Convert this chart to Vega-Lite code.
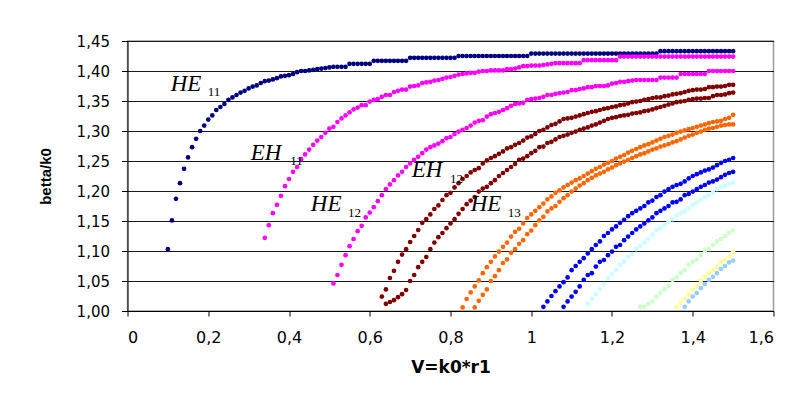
{
"$schema":"https://vega.github.io/schema/vega-lite/v6.json",
"width":646,"height":270,
"autosize":{"type":"none"},
"padding":{"left":127.5,"top":41,"right":20.5,"bottom":85},
"background":"white",
"config":{"view":{"stroke":"#9a9a9a","strokeWidth":1.5}},
"datasets":{
"pts":[
{"s":"HE11","x":0.10,"y":1.103},{"s":"HE11","x":0.11,"y":1.151},{"s":"HE11","x":0.12,"y":1.187},{"s":"HE11","x":0.13,"y":1.213},{"s":"HE11","x":0.14,"y":1.237},{"s":"HE11","x":0.15,"y":1.256},{"s":"HE11","x":0.16,"y":1.273},{"s":"HE11","x":0.17,"y":1.287},{"s":"HE11","x":0.18,"y":1.300},{"s":"HE11","x":0.19,"y":1.309},
{"s":"HE11","x":0.20,"y":1.319},{"s":"HE11","x":0.21,"y":1.326},{"s":"HE11","x":0.22,"y":1.335},{"s":"HE11","x":0.23,"y":1.340},{"s":"HE11","x":0.24,"y":1.345},{"s":"HE11","x":0.25,"y":1.352},{"s":"HE11","x":0.26,"y":1.356},{"s":"HE11","x":0.27,"y":1.360},{"s":"HE11","x":0.28,"y":1.364},{"s":"HE11","x":0.29,"y":1.367},
{"s":"HE11","x":0.30,"y":1.371},{"s":"HE11","x":0.31,"y":1.374},{"s":"HE11","x":0.32,"y":1.376},{"s":"HE11","x":0.33,"y":1.380},{"s":"HE11","x":0.34,"y":1.383},{"s":"HE11","x":0.35,"y":1.384},{"s":"HE11","x":0.36,"y":1.386},{"s":"HE11","x":0.37,"y":1.388},{"s":"HE11","x":0.38,"y":1.391},{"s":"HE11","x":0.39,"y":1.392},
{"s":"HE11","x":0.40,"y":1.393},{"s":"HE11","x":0.41,"y":1.395},{"s":"HE11","x":0.42,"y":1.398},{"s":"HE11","x":0.43,"y":1.400},{"s":"HE11","x":0.44,"y":1.400},{"s":"HE11","x":0.45,"y":1.401},{"s":"HE11","x":0.46,"y":1.402},{"s":"HE11","x":0.47,"y":1.403},{"s":"HE11","x":0.48,"y":1.404},{"s":"HE11","x":0.49,"y":1.405},
{"s":"HE11","x":0.50,"y":1.406},{"s":"HE11","x":0.51,"y":1.407},{"s":"HE11","x":0.52,"y":1.407},{"s":"HE11","x":0.53,"y":1.407},{"s":"HE11","x":0.54,"y":1.407},{"s":"HE11","x":0.55,"y":1.412},{"s":"HE11","x":0.56,"y":1.412},{"s":"HE11","x":0.57,"y":1.412},{"s":"HE11","x":0.58,"y":1.412},{"s":"HE11","x":0.59,"y":1.412},
{"s":"HE11","x":0.60,"y":1.412},{"s":"HE11","x":0.61,"y":1.417},{"s":"HE11","x":0.62,"y":1.417},{"s":"HE11","x":0.63,"y":1.417},{"s":"HE11","x":0.64,"y":1.417},{"s":"HE11","x":0.65,"y":1.417},{"s":"HE11","x":0.66,"y":1.417},{"s":"HE11","x":0.67,"y":1.417},{"s":"HE11","x":0.68,"y":1.417},{"s":"HE11","x":0.69,"y":1.417},
{"s":"HE11","x":0.70,"y":1.422},{"s":"HE11","x":0.71,"y":1.422},{"s":"HE11","x":0.72,"y":1.422},{"s":"HE11","x":0.73,"y":1.422},{"s":"HE11","x":0.74,"y":1.422},{"s":"HE11","x":0.75,"y":1.422},{"s":"HE11","x":0.76,"y":1.422},{"s":"HE11","x":0.77,"y":1.422},{"s":"HE11","x":0.78,"y":1.422},{"s":"HE11","x":0.79,"y":1.422},
{"s":"HE11","x":0.80,"y":1.422},{"s":"HE11","x":0.81,"y":1.422},{"s":"HE11","x":0.82,"y":1.425},{"s":"HE11","x":0.83,"y":1.425},{"s":"HE11","x":0.84,"y":1.425},{"s":"HE11","x":0.85,"y":1.425},{"s":"HE11","x":0.86,"y":1.425},{"s":"HE11","x":0.87,"y":1.425},{"s":"HE11","x":0.88,"y":1.425},{"s":"HE11","x":0.89,"y":1.425},
{"s":"HE11","x":0.90,"y":1.425},{"s":"HE11","x":0.91,"y":1.425},{"s":"HE11","x":0.92,"y":1.425},{"s":"HE11","x":0.93,"y":1.425},{"s":"HE11","x":0.94,"y":1.425},{"s":"HE11","x":0.95,"y":1.425},{"s":"HE11","x":0.96,"y":1.425},{"s":"HE11","x":0.97,"y":1.425},{"s":"HE11","x":0.98,"y":1.425},{"s":"HE11","x":0.99,"y":1.425},
{"s":"HE11","x":1.00,"y":1.429},{"s":"HE11","x":1.01,"y":1.429},{"s":"HE11","x":1.02,"y":1.429},{"s":"HE11","x":1.03,"y":1.429},{"s":"HE11","x":1.04,"y":1.429},{"s":"HE11","x":1.05,"y":1.429},{"s":"HE11","x":1.06,"y":1.429},{"s":"HE11","x":1.07,"y":1.429},{"s":"HE11","x":1.08,"y":1.429},{"s":"HE11","x":1.09,"y":1.429},
{"s":"HE11","x":1.10,"y":1.429},{"s":"HE11","x":1.11,"y":1.429},{"s":"HE11","x":1.12,"y":1.429},{"s":"HE11","x":1.13,"y":1.429},{"s":"HE11","x":1.14,"y":1.429},{"s":"HE11","x":1.15,"y":1.429},{"s":"HE11","x":1.16,"y":1.429},{"s":"HE11","x":1.17,"y":1.429},{"s":"HE11","x":1.18,"y":1.429},{"s":"HE11","x":1.19,"y":1.429},
{"s":"HE11","x":1.20,"y":1.429},{"s":"HE11","x":1.21,"y":1.429},{"s":"HE11","x":1.22,"y":1.429},{"s":"HE11","x":1.23,"y":1.429},{"s":"HE11","x":1.24,"y":1.429},{"s":"HE11","x":1.25,"y":1.429},{"s":"HE11","x":1.26,"y":1.429},{"s":"HE11","x":1.27,"y":1.429},{"s":"HE11","x":1.28,"y":1.429},{"s":"HE11","x":1.29,"y":1.429},
{"s":"HE11","x":1.30,"y":1.429},{"s":"HE11","x":1.31,"y":1.429},{"s":"HE11","x":1.32,"y":1.433},{"s":"HE11","x":1.33,"y":1.433},{"s":"HE11","x":1.34,"y":1.433},{"s":"HE11","x":1.35,"y":1.433},{"s":"HE11","x":1.36,"y":1.433},{"s":"HE11","x":1.37,"y":1.433},{"s":"HE11","x":1.38,"y":1.433},{"s":"HE11","x":1.39,"y":1.433},
{"s":"HE11","x":1.40,"y":1.433},{"s":"HE11","x":1.41,"y":1.433},{"s":"HE11","x":1.42,"y":1.433},{"s":"HE11","x":1.43,"y":1.433},{"s":"HE11","x":1.44,"y":1.433},{"s":"HE11","x":1.45,"y":1.433},{"s":"HE11","x":1.46,"y":1.433},{"s":"HE11","x":1.47,"y":1.433},{"s":"HE11","x":1.48,"y":1.433},{"s":"HE11","x":1.49,"y":1.433},{"s":"HE11","x":1.50,"y":1.433},

{"s":"EH11","x":0.34,"y":1.122},{"s":"EH11","x":0.35,"y":1.143},{"s":"EH11","x":0.36,"y":1.163},{"s":"EH11","x":0.37,"y":1.177},{"s":"EH11","x":0.38,"y":1.192},{"s":"EH11","x":0.39,"y":1.208},
{"s":"EH11","x":0.40,"y":1.220},{"s":"EH11","x":0.41,"y":1.232},{"s":"EH11","x":0.42,"y":1.240},{"s":"EH11","x":0.43,"y":1.253},{"s":"EH11","x":0.44,"y":1.261},{"s":"EH11","x":0.45,"y":1.269},{"s":"EH11","x":0.46,"y":1.277},{"s":"EH11","x":0.47,"y":1.284},{"s":"EH11","x":0.48,"y":1.290},{"s":"EH11","x":0.49,"y":1.297},
{"s":"EH11","x":0.50,"y":1.304},{"s":"EH11","x":0.51,"y":1.307},{"s":"EH11","x":0.52,"y":1.315},{"s":"EH11","x":0.53,"y":1.321},{"s":"EH11","x":0.54,"y":1.326},{"s":"EH11","x":0.55,"y":1.331},{"s":"EH11","x":0.56,"y":1.336},{"s":"EH11","x":0.57,"y":1.339},{"s":"EH11","x":0.58,"y":1.343},{"s":"EH11","x":0.59,"y":1.343},
{"s":"EH11","x":0.60,"y":1.349},{"s":"EH11","x":0.61,"y":1.352},{"s":"EH11","x":0.62,"y":1.353},{"s":"EH11","x":0.63,"y":1.357},{"s":"EH11","x":0.64,"y":1.360},{"s":"EH11","x":0.65,"y":1.360},{"s":"EH11","x":0.66,"y":1.365},{"s":"EH11","x":0.67,"y":1.367},{"s":"EH11","x":0.68,"y":1.369},{"s":"EH11","x":0.69,"y":1.369},
{"s":"EH11","x":0.70,"y":1.374},{"s":"EH11","x":0.71,"y":1.375},{"s":"EH11","x":0.72,"y":1.376},{"s":"EH11","x":0.73,"y":1.380},{"s":"EH11","x":0.74,"y":1.381},{"s":"EH11","x":0.75,"y":1.382},{"s":"EH11","x":0.76,"y":1.384},{"s":"EH11","x":0.77,"y":1.385},{"s":"EH11","x":0.78,"y":1.387},{"s":"EH11","x":0.79,"y":1.389},
{"s":"EH11","x":0.80,"y":1.390},{"s":"EH11","x":0.81,"y":1.392},{"s":"EH11","x":0.82,"y":1.394},{"s":"EH11","x":0.83,"y":1.395},{"s":"EH11","x":0.84,"y":1.396},{"s":"EH11","x":0.85,"y":1.397},{"s":"EH11","x":0.86,"y":1.397},{"s":"EH11","x":0.87,"y":1.399},{"s":"EH11","x":0.88,"y":1.400},{"s":"EH11","x":0.89,"y":1.400},
{"s":"EH11","x":0.90,"y":1.401},{"s":"EH11","x":0.91,"y":1.401},{"s":"EH11","x":0.92,"y":1.401},{"s":"EH11","x":0.93,"y":1.401},{"s":"EH11","x":0.94,"y":1.403},{"s":"EH11","x":0.95,"y":1.403},{"s":"EH11","x":0.96,"y":1.404},{"s":"EH11","x":0.97,"y":1.406},{"s":"EH11","x":0.98,"y":1.408},{"s":"EH11","x":0.99,"y":1.408},
{"s":"EH11","x":1.00,"y":1.409},{"s":"EH11","x":1.01,"y":1.409},{"s":"EH11","x":1.02,"y":1.409},{"s":"EH11","x":1.03,"y":1.410},{"s":"EH11","x":1.04,"y":1.411},{"s":"EH11","x":1.05,"y":1.412},{"s":"EH11","x":1.06,"y":1.413},{"s":"EH11","x":1.07,"y":1.413},{"s":"EH11","x":1.08,"y":1.413},{"s":"EH11","x":1.09,"y":1.413},
{"s":"EH11","x":1.10,"y":1.413},{"s":"EH11","x":1.11,"y":1.413},{"s":"EH11","x":1.12,"y":1.413},{"s":"EH11","x":1.13,"y":1.418},{"s":"EH11","x":1.14,"y":1.418},{"s":"EH11","x":1.15,"y":1.418},{"s":"EH11","x":1.16,"y":1.418},{"s":"EH11","x":1.17,"y":1.418},{"s":"EH11","x":1.18,"y":1.418},{"s":"EH11","x":1.19,"y":1.418},
{"s":"EH11","x":1.20,"y":1.418},{"s":"EH11","x":1.21,"y":1.418},{"s":"EH11","x":1.22,"y":1.424},{"s":"EH11","x":1.23,"y":1.424},{"s":"EH11","x":1.24,"y":1.424},{"s":"EH11","x":1.25,"y":1.424},{"s":"EH11","x":1.26,"y":1.424},{"s":"EH11","x":1.27,"y":1.424},{"s":"EH11","x":1.28,"y":1.424},{"s":"EH11","x":1.29,"y":1.424},
{"s":"EH11","x":1.30,"y":1.424},{"s":"EH11","x":1.31,"y":1.424},{"s":"EH11","x":1.32,"y":1.424},{"s":"EH11","x":1.33,"y":1.424},{"s":"EH11","x":1.34,"y":1.424},{"s":"EH11","x":1.35,"y":1.424},{"s":"EH11","x":1.36,"y":1.424},{"s":"EH11","x":1.37,"y":1.424},{"s":"EH11","x":1.38,"y":1.424},{"s":"EH11","x":1.39,"y":1.424},
{"s":"EH11","x":1.40,"y":1.424},{"s":"EH11","x":1.41,"y":1.424},{"s":"EH11","x":1.42,"y":1.424},{"s":"EH11","x":1.43,"y":1.424},{"s":"EH11","x":1.44,"y":1.424},{"s":"EH11","x":1.45,"y":1.424},{"s":"EH11","x":1.46,"y":1.424},{"s":"EH11","x":1.47,"y":1.424},{"s":"EH11","x":1.48,"y":1.424},{"s":"EH11","x":1.49,"y":1.424},{"s":"EH11","x":1.50,"y":1.424},

{"s":"HE12","x":0.51,"y":1.046},{"s":"HE12","x":0.52,"y":1.060},{"s":"HE12","x":0.53,"y":1.077},{"s":"HE12","x":0.54,"y":1.093},{"s":"HE12","x":0.55,"y":1.108},{"s":"HE12","x":0.56,"y":1.120},{"s":"HE12","x":0.57,"y":1.133},{"s":"HE12","x":0.58,"y":1.142},{"s":"HE12","x":0.59,"y":1.156},
{"s":"HE12","x":0.60,"y":1.164},{"s":"HE12","x":0.61,"y":1.173},{"s":"HE12","x":0.62,"y":1.183},{"s":"HE12","x":0.63,"y":1.193},{"s":"HE12","x":0.64,"y":1.203},{"s":"HE12","x":0.65,"y":1.211},{"s":"HE12","x":0.66,"y":1.218},{"s":"HE12","x":0.67,"y":1.226},{"s":"HE12","x":0.68,"y":1.232},{"s":"HE12","x":0.69,"y":1.240},
{"s":"HE12","x":0.70,"y":1.246},{"s":"HE12","x":0.71,"y":1.252},{"s":"HE12","x":0.72,"y":1.257},{"s":"HE12","x":0.73,"y":1.263},{"s":"HE12","x":0.74,"y":1.269},{"s":"HE12","x":0.75,"y":1.273},{"s":"HE12","x":0.76,"y":1.276},{"s":"HE12","x":0.77,"y":1.279},{"s":"HE12","x":0.78,"y":1.283},{"s":"HE12","x":0.79,"y":1.288},
{"s":"HE12","x":0.80,"y":1.290},{"s":"HE12","x":0.81,"y":1.295},{"s":"HE12","x":0.82,"y":1.299},{"s":"HE12","x":0.83,"y":1.302},{"s":"HE12","x":0.84,"y":1.305},{"s":"HE12","x":0.85,"y":1.309},{"s":"HE12","x":0.86,"y":1.314},{"s":"HE12","x":0.87,"y":1.317},{"s":"HE12","x":0.88,"y":1.318},{"s":"HE12","x":0.89,"y":1.324},
{"s":"HE12","x":0.90,"y":1.328},{"s":"HE12","x":0.91,"y":1.330},{"s":"HE12","x":0.92,"y":1.332},{"s":"HE12","x":0.93,"y":1.335},{"s":"HE12","x":0.94,"y":1.338},{"s":"HE12","x":0.95,"y":1.342},{"s":"HE12","x":0.96,"y":1.345},{"s":"HE12","x":0.97,"y":1.346},{"s":"HE12","x":0.98,"y":1.347},{"s":"HE12","x":0.99,"y":1.352},
{"s":"HE12","x":1.00,"y":1.353},{"s":"HE12","x":1.01,"y":1.354},{"s":"HE12","x":1.02,"y":1.355},{"s":"HE12","x":1.03,"y":1.357},{"s":"HE12","x":1.04,"y":1.360},{"s":"HE12","x":1.05,"y":1.360},{"s":"HE12","x":1.06,"y":1.362},{"s":"HE12","x":1.07,"y":1.363},{"s":"HE12","x":1.08,"y":1.364},{"s":"HE12","x":1.09,"y":1.365},
{"s":"HE12","x":1.10,"y":1.368},{"s":"HE12","x":1.11,"y":1.368},{"s":"HE12","x":1.12,"y":1.370},{"s":"HE12","x":1.13,"y":1.371},{"s":"HE12","x":1.14,"y":1.373},{"s":"HE12","x":1.15,"y":1.373},{"s":"HE12","x":1.16,"y":1.375},{"s":"HE12","x":1.17,"y":1.375},{"s":"HE12","x":1.18,"y":1.375},{"s":"HE12","x":1.19,"y":1.376},
{"s":"HE12","x":1.20,"y":1.379},{"s":"HE12","x":1.21,"y":1.380},{"s":"HE12","x":1.22,"y":1.382},{"s":"HE12","x":1.23,"y":1.382},{"s":"HE12","x":1.24,"y":1.383},{"s":"HE12","x":1.25,"y":1.384},{"s":"HE12","x":1.26,"y":1.385},{"s":"HE12","x":1.27,"y":1.385},{"s":"HE12","x":1.28,"y":1.385},{"s":"HE12","x":1.29,"y":1.385},
{"s":"HE12","x":1.30,"y":1.385},{"s":"HE12","x":1.31,"y":1.385},{"s":"HE12","x":1.32,"y":1.389},{"s":"HE12","x":1.33,"y":1.389},{"s":"HE12","x":1.34,"y":1.389},{"s":"HE12","x":1.35,"y":1.389},{"s":"HE12","x":1.36,"y":1.389},{"s":"HE12","x":1.37,"y":1.395},{"s":"HE12","x":1.38,"y":1.395},{"s":"HE12","x":1.39,"y":1.395},
{"s":"HE12","x":1.40,"y":1.395},{"s":"HE12","x":1.41,"y":1.395},{"s":"HE12","x":1.42,"y":1.395},{"s":"HE12","x":1.43,"y":1.395},{"s":"HE12","x":1.44,"y":1.400},{"s":"HE12","x":1.45,"y":1.400},{"s":"HE12","x":1.46,"y":1.400},{"s":"HE12","x":1.47,"y":1.400},{"s":"HE12","x":1.48,"y":1.400},{"s":"HE12","x":1.49,"y":1.400},{"s":"HE12","x":1.50,"y":1.400},

{"s":"EH12","x":0.63,"y":1.024},{"s":"EH12","x":0.64,"y":1.036},{"s":"EH12","x":0.65,"y":1.055},{"s":"EH12","x":0.66,"y":1.067},{"s":"EH12","x":0.67,"y":1.082},{"s":"EH12","x":0.68,"y":1.094},{"s":"EH12","x":0.69,"y":1.103},
{"s":"EH12","x":0.70,"y":1.115},{"s":"EH12","x":0.71,"y":1.125},{"s":"EH12","x":0.72,"y":1.135},{"s":"EH12","x":0.73,"y":1.147},{"s":"EH12","x":0.74,"y":1.153},{"s":"EH12","x":0.75,"y":1.161},{"s":"EH12","x":0.76,"y":1.170},{"s":"EH12","x":0.77,"y":1.176},{"s":"EH12","x":0.78,"y":1.185},{"s":"EH12","x":0.79,"y":1.193},
{"s":"EH12","x":0.80,"y":1.197},{"s":"EH12","x":0.81,"y":1.206},{"s":"EH12","x":0.82,"y":1.213},{"s":"EH12","x":0.83,"y":1.220},{"s":"EH12","x":0.84,"y":1.225},{"s":"EH12","x":0.85,"y":1.231},{"s":"EH12","x":0.86,"y":1.235},{"s":"EH12","x":0.87,"y":1.238},{"s":"EH12","x":0.88,"y":1.246},{"s":"EH12","x":0.89,"y":1.251},
{"s":"EH12","x":0.90,"y":1.255},{"s":"EH12","x":0.91,"y":1.258},{"s":"EH12","x":0.92,"y":1.262},{"s":"EH12","x":0.93,"y":1.266},{"s":"EH12","x":0.94,"y":1.271},{"s":"EH12","x":0.95,"y":1.273},{"s":"EH12","x":0.96,"y":1.277},{"s":"EH12","x":0.97,"y":1.280},{"s":"EH12","x":0.98,"y":1.284},{"s":"EH12","x":0.99,"y":1.289},
{"s":"EH12","x":1.00,"y":1.291},{"s":"EH12","x":1.01,"y":1.295},{"s":"EH12","x":1.02,"y":1.300},{"s":"EH12","x":1.03,"y":1.302},{"s":"EH12","x":1.04,"y":1.306},{"s":"EH12","x":1.05,"y":1.310},{"s":"EH12","x":1.06,"y":1.312},{"s":"EH12","x":1.07,"y":1.316},{"s":"EH12","x":1.08,"y":1.320},{"s":"EH12","x":1.09,"y":1.321},
{"s":"EH12","x":1.10,"y":1.322},{"s":"EH12","x":1.11,"y":1.324},{"s":"EH12","x":1.12,"y":1.326},{"s":"EH12","x":1.13,"y":1.328},{"s":"EH12","x":1.14,"y":1.330},{"s":"EH12","x":1.15,"y":1.332},{"s":"EH12","x":1.16,"y":1.333},{"s":"EH12","x":1.17,"y":1.335},{"s":"EH12","x":1.18,"y":1.337},{"s":"EH12","x":1.19,"y":1.338},
{"s":"EH12","x":1.20,"y":1.340},{"s":"EH12","x":1.21,"y":1.341},{"s":"EH12","x":1.22,"y":1.343},{"s":"EH12","x":1.23,"y":1.344},{"s":"EH12","x":1.24,"y":1.346},{"s":"EH12","x":1.25,"y":1.348},{"s":"EH12","x":1.26,"y":1.349},{"s":"EH12","x":1.27,"y":1.350},{"s":"EH12","x":1.28,"y":1.352},{"s":"EH12","x":1.29,"y":1.353},
{"s":"EH12","x":1.30,"y":1.355},{"s":"EH12","x":1.31,"y":1.356},{"s":"EH12","x":1.32,"y":1.356},{"s":"EH12","x":1.33,"y":1.358},{"s":"EH12","x":1.34,"y":1.359},{"s":"EH12","x":1.35,"y":1.361},{"s":"EH12","x":1.36,"y":1.362},{"s":"EH12","x":1.37,"y":1.363},{"s":"EH12","x":1.38,"y":1.365},{"s":"EH12","x":1.39,"y":1.367},
{"s":"EH12","x":1.40,"y":1.368},{"s":"EH12","x":1.41,"y":1.369},{"s":"EH12","x":1.42,"y":1.369},{"s":"EH12","x":1.43,"y":1.370},{"s":"EH12","x":1.44,"y":1.373},{"s":"EH12","x":1.45,"y":1.373},{"s":"EH12","x":1.46,"y":1.374},{"s":"EH12","x":1.47,"y":1.374},{"s":"EH12","x":1.48,"y":1.375},{"s":"EH12","x":1.49,"y":1.377},{"s":"EH12","x":1.50,"y":1.377},

{"s":"HE13","x":0.64,"y":1.012},{"s":"HE13","x":0.65,"y":1.015},{"s":"HE13","x":0.66,"y":1.018},{"s":"HE13","x":0.67,"y":1.023},{"s":"HE13","x":0.68,"y":1.028},{"s":"HE13","x":0.69,"y":1.035},
{"s":"HE13","x":0.70,"y":1.050},{"s":"HE13","x":0.71,"y":1.060},{"s":"HE13","x":0.72,"y":1.073},{"s":"HE13","x":0.73,"y":1.082},{"s":"HE13","x":0.74,"y":1.090},{"s":"HE13","x":0.75,"y":1.103},{"s":"HE13","x":0.76,"y":1.114},{"s":"HE13","x":0.77,"y":1.123},{"s":"HE13","x":0.78,"y":1.130},{"s":"HE13","x":0.79,"y":1.138},
{"s":"HE13","x":0.80,"y":1.146},{"s":"HE13","x":0.81,"y":1.153},{"s":"HE13","x":0.82,"y":1.162},{"s":"HE13","x":0.83,"y":1.170},{"s":"HE13","x":0.84,"y":1.178},{"s":"HE13","x":0.85,"y":1.184},{"s":"HE13","x":0.86,"y":1.190},{"s":"HE13","x":0.87,"y":1.199},{"s":"HE13","x":0.88,"y":1.204},{"s":"HE13","x":0.89,"y":1.207},
{"s":"HE13","x":0.90,"y":1.213},{"s":"HE13","x":0.91,"y":1.218},{"s":"HE13","x":0.92,"y":1.225},{"s":"HE13","x":0.93,"y":1.230},{"s":"HE13","x":0.94,"y":1.235},{"s":"HE13","x":0.95,"y":1.240},{"s":"HE13","x":0.96,"y":1.245},{"s":"HE13","x":0.97,"y":1.252},{"s":"HE13","x":0.98,"y":1.254},{"s":"HE13","x":0.99,"y":1.258},
{"s":"HE13","x":1.00,"y":1.263},{"s":"HE13","x":1.01,"y":1.267},{"s":"HE13","x":1.02,"y":1.273},{"s":"HE13","x":1.03,"y":1.274},{"s":"HE13","x":1.04,"y":1.280},{"s":"HE13","x":1.05,"y":1.282},{"s":"HE13","x":1.06,"y":1.286},{"s":"HE13","x":1.07,"y":1.290},{"s":"HE13","x":1.08,"y":1.292},{"s":"HE13","x":1.09,"y":1.294},
{"s":"HE13","x":1.10,"y":1.297},{"s":"HE13","x":1.11,"y":1.299},{"s":"HE13","x":1.12,"y":1.302},{"s":"HE13","x":1.13,"y":1.304},{"s":"HE13","x":1.14,"y":1.306},{"s":"HE13","x":1.15,"y":1.309},{"s":"HE13","x":1.16,"y":1.311},{"s":"HE13","x":1.17,"y":1.314},{"s":"HE13","x":1.18,"y":1.317},{"s":"HE13","x":1.19,"y":1.320},
{"s":"HE13","x":1.20,"y":1.322},{"s":"HE13","x":1.21,"y":1.323},{"s":"HE13","x":1.22,"y":1.325},{"s":"HE13","x":1.23,"y":1.326},{"s":"HE13","x":1.24,"y":1.327},{"s":"HE13","x":1.25,"y":1.329},{"s":"HE13","x":1.26,"y":1.330},{"s":"HE13","x":1.27,"y":1.331},{"s":"HE13","x":1.28,"y":1.333},{"s":"HE13","x":1.29,"y":1.334},
{"s":"HE13","x":1.30,"y":1.336},{"s":"HE13","x":1.31,"y":1.338},{"s":"HE13","x":1.32,"y":1.340},{"s":"HE13","x":1.33,"y":1.342},{"s":"HE13","x":1.34,"y":1.344},{"s":"HE13","x":1.35,"y":1.346},{"s":"HE13","x":1.36,"y":1.348},{"s":"HE13","x":1.37,"y":1.349},{"s":"HE13","x":1.38,"y":1.350},{"s":"HE13","x":1.39,"y":1.352},
{"s":"HE13","x":1.40,"y":1.353},{"s":"HE13","x":1.41,"y":1.354},{"s":"HE13","x":1.42,"y":1.354},{"s":"HE13","x":1.43,"y":1.355},{"s":"HE13","x":1.44,"y":1.355},{"s":"HE13","x":1.45,"y":1.358},{"s":"HE13","x":1.46,"y":1.360},{"s":"HE13","x":1.47,"y":1.360},{"s":"HE13","x":1.48,"y":1.361},{"s":"HE13","x":1.49,"y":1.363},{"s":"HE13","x":1.50,"y":1.364},

{"s":"O1","x":0.83,"y":1.006},{"s":"O1","x":0.84,"y":1.020},{"s":"O1","x":0.85,"y":1.031},{"s":"O1","x":0.86,"y":1.041},{"s":"O1","x":0.87,"y":1.051},{"s":"O1","x":0.88,"y":1.063},{"s":"O1","x":0.89,"y":1.073},
{"s":"O1","x":0.90,"y":1.082},{"s":"O1","x":0.91,"y":1.091},{"s":"O1","x":0.92,"y":1.099},{"s":"O1","x":0.93,"y":1.107},{"s":"O1","x":0.94,"y":1.114},{"s":"O1","x":0.95,"y":1.124},{"s":"O1","x":0.96,"y":1.132},{"s":"O1","x":0.97,"y":1.137},{"s":"O1","x":0.98,"y":1.146},{"s":"O1","x":0.99,"y":1.155},
{"s":"O1","x":1.00,"y":1.161},{"s":"O1","x":1.01,"y":1.167},{"s":"O1","x":1.02,"y":1.173},{"s":"O1","x":1.03,"y":1.179},{"s":"O1","x":1.04,"y":1.186},{"s":"O1","x":1.05,"y":1.191},{"s":"O1","x":1.06,"y":1.197},{"s":"O1","x":1.07,"y":1.201},{"s":"O1","x":1.08,"y":1.206},{"s":"O1","x":1.09,"y":1.210},
{"s":"O1","x":1.10,"y":1.214},{"s":"O1","x":1.11,"y":1.218},{"s":"O1","x":1.12,"y":1.221},{"s":"O1","x":1.13,"y":1.225},{"s":"O1","x":1.14,"y":1.229},{"s":"O1","x":1.15,"y":1.233},{"s":"O1","x":1.16,"y":1.237},{"s":"O1","x":1.17,"y":1.240},{"s":"O1","x":1.18,"y":1.244},{"s":"O1","x":1.19,"y":1.247},
{"s":"O1","x":1.20,"y":1.250},{"s":"O1","x":1.21,"y":1.254},{"s":"O1","x":1.22,"y":1.257},{"s":"O1","x":1.23,"y":1.260},{"s":"O1","x":1.24,"y":1.264},{"s":"O1","x":1.25,"y":1.267},{"s":"O1","x":1.26,"y":1.270},{"s":"O1","x":1.27,"y":1.273},{"s":"O1","x":1.28,"y":1.276},{"s":"O1","x":1.29,"y":1.278},
{"s":"O1","x":1.30,"y":1.281},{"s":"O1","x":1.31,"y":1.284},{"s":"O1","x":1.32,"y":1.287},{"s":"O1","x":1.33,"y":1.290},{"s":"O1","x":1.34,"y":1.292},{"s":"O1","x":1.35,"y":1.294},{"s":"O1","x":1.36,"y":1.297},{"s":"O1","x":1.37,"y":1.299},{"s":"O1","x":1.38,"y":1.301},{"s":"O1","x":1.39,"y":1.303},
{"s":"O1","x":1.40,"y":1.305},{"s":"O1","x":1.41,"y":1.307},{"s":"O1","x":1.42,"y":1.309},{"s":"O1","x":1.43,"y":1.311},{"s":"O1","x":1.44,"y":1.313},{"s":"O1","x":1.45,"y":1.315},{"s":"O1","x":1.46,"y":1.316},{"s":"O1","x":1.47,"y":1.317},{"s":"O1","x":1.48,"y":1.320},{"s":"O1","x":1.49,"y":1.322},{"s":"O1","x":1.50,"y":1.327},

{"s":"O2","x":0.86,"y":1.006},{"s":"O2","x":0.87,"y":1.017},{"s":"O2","x":0.88,"y":1.027},{"s":"O2","x":0.89,"y":1.036},
{"s":"O2","x":0.90,"y":1.050},{"s":"O2","x":0.91,"y":1.058},{"s":"O2","x":0.92,"y":1.068},{"s":"O2","x":0.93,"y":1.080},{"s":"O2","x":0.94,"y":1.086},{"s":"O2","x":0.95,"y":1.097},{"s":"O2","x":0.96,"y":1.103},{"s":"O2","x":0.97,"y":1.112},{"s":"O2","x":0.98,"y":1.118},{"s":"O2","x":0.99,"y":1.128},
{"s":"O2","x":1.00,"y":1.134},{"s":"O2","x":1.01,"y":1.143},{"s":"O2","x":1.02,"y":1.151},{"s":"O2","x":1.03,"y":1.157},{"s":"O2","x":1.04,"y":1.166},{"s":"O2","x":1.05,"y":1.171},{"s":"O2","x":1.06,"y":1.175},{"s":"O2","x":1.07,"y":1.182},{"s":"O2","x":1.08,"y":1.188},{"s":"O2","x":1.09,"y":1.193},
{"s":"O2","x":1.10,"y":1.199},{"s":"O2","x":1.11,"y":1.204},{"s":"O2","x":1.12,"y":1.209},{"s":"O2","x":1.13,"y":1.213},{"s":"O2","x":1.14,"y":1.218},{"s":"O2","x":1.15,"y":1.222},{"s":"O2","x":1.16,"y":1.226},{"s":"O2","x":1.17,"y":1.229},{"s":"O2","x":1.18,"y":1.232},{"s":"O2","x":1.19,"y":1.236},
{"s":"O2","x":1.20,"y":1.239},{"s":"O2","x":1.21,"y":1.243},{"s":"O2","x":1.22,"y":1.246},{"s":"O2","x":1.23,"y":1.249},{"s":"O2","x":1.24,"y":1.252},{"s":"O2","x":1.25,"y":1.255},{"s":"O2","x":1.26,"y":1.258},{"s":"O2","x":1.27,"y":1.261},{"s":"O2","x":1.28,"y":1.263},{"s":"O2","x":1.29,"y":1.266},
{"s":"O2","x":1.30,"y":1.269},{"s":"O2","x":1.31,"y":1.271},{"s":"O2","x":1.32,"y":1.274},{"s":"O2","x":1.33,"y":1.276},{"s":"O2","x":1.34,"y":1.278},{"s":"O2","x":1.35,"y":1.281},{"s":"O2","x":1.36,"y":1.283},{"s":"O2","x":1.37,"y":1.286},{"s":"O2","x":1.38,"y":1.289},{"s":"O2","x":1.39,"y":1.292},
{"s":"O2","x":1.40,"y":1.294},{"s":"O2","x":1.41,"y":1.297},{"s":"O2","x":1.42,"y":1.299},{"s":"O2","x":1.43,"y":1.302},{"s":"O2","x":1.44,"y":1.304},{"s":"O2","x":1.45,"y":1.305},{"s":"O2","x":1.46,"y":1.307},{"s":"O2","x":1.47,"y":1.309},{"s":"O2","x":1.48,"y":1.310},{"s":"O2","x":1.49,"y":1.311},{"s":"O2","x":1.50,"y":1.311},

{"s":"B1","x":1.03,"y":1.007},{"s":"B1","x":1.04,"y":1.016},{"s":"B1","x":1.05,"y":1.025},{"s":"B1","x":1.06,"y":1.033},{"s":"B1","x":1.07,"y":1.041},{"s":"B1","x":1.08,"y":1.048},{"s":"B1","x":1.09,"y":1.056},
{"s":"B1","x":1.10,"y":1.068},{"s":"B1","x":1.11,"y":1.075},{"s":"B1","x":1.12,"y":1.082},{"s":"B1","x":1.13,"y":1.088},{"s":"B1","x":1.14,"y":1.096},{"s":"B1","x":1.15,"y":1.103},{"s":"B1","x":1.16,"y":1.110},{"s":"B1","x":1.17,"y":1.116},{"s":"B1","x":1.18,"y":1.125},{"s":"B1","x":1.19,"y":1.130},
{"s":"B1","x":1.20,"y":1.136},{"s":"B1","x":1.21,"y":1.141},{"s":"B1","x":1.22,"y":1.147},{"s":"B1","x":1.23,"y":1.152},{"s":"B1","x":1.24,"y":1.158},{"s":"B1","x":1.25,"y":1.163},{"s":"B1","x":1.26,"y":1.167},{"s":"B1","x":1.27,"y":1.171},{"s":"B1","x":1.28,"y":1.175},{"s":"B1","x":1.29,"y":1.181},
{"s":"B1","x":1.30,"y":1.184},{"s":"B1","x":1.31,"y":1.190},{"s":"B1","x":1.32,"y":1.193},{"s":"B1","x":1.33,"y":1.199},{"s":"B1","x":1.34,"y":1.203},{"s":"B1","x":1.35,"y":1.207},{"s":"B1","x":1.36,"y":1.210},{"s":"B1","x":1.37,"y":1.212},{"s":"B1","x":1.38,"y":1.216},{"s":"B1","x":1.39,"y":1.221},
{"s":"B1","x":1.40,"y":1.225},{"s":"B1","x":1.41,"y":1.228},{"s":"B1","x":1.42,"y":1.231},{"s":"B1","x":1.43,"y":1.234},{"s":"B1","x":1.44,"y":1.236},{"s":"B1","x":1.45,"y":1.239},{"s":"B1","x":1.46,"y":1.243},{"s":"B1","x":1.47,"y":1.247},{"s":"B1","x":1.48,"y":1.250},{"s":"B1","x":1.49,"y":1.252},{"s":"B1","x":1.50,"y":1.255},

{"s":"B2","x":1.08,"y":1.007},{"s":"B2","x":1.09,"y":1.016},
{"s":"B2","x":1.10,"y":1.024},{"s":"B2","x":1.11,"y":1.032},{"s":"B2","x":1.12,"y":1.041},{"s":"B2","x":1.13,"y":1.052},{"s":"B2","x":1.14,"y":1.060},{"s":"B2","x":1.15,"y":1.063},{"s":"B2","x":1.16,"y":1.074},{"s":"B2","x":1.17,"y":1.082},{"s":"B2","x":1.18,"y":1.085},{"s":"B2","x":1.19,"y":1.093},
{"s":"B2","x":1.20,"y":1.099},{"s":"B2","x":1.21,"y":1.107},{"s":"B2","x":1.22,"y":1.110},{"s":"B2","x":1.23,"y":1.118},{"s":"B2","x":1.24,"y":1.124},{"s":"B2","x":1.25,"y":1.130},{"s":"B2","x":1.26,"y":1.136},{"s":"B2","x":1.27,"y":1.141},{"s":"B2","x":1.28,"y":1.146},{"s":"B2","x":1.29,"y":1.151},
{"s":"B2","x":1.30,"y":1.156},{"s":"B2","x":1.31,"y":1.163},{"s":"B2","x":1.32,"y":1.167},{"s":"B2","x":1.33,"y":1.171},{"s":"B2","x":1.34,"y":1.175},{"s":"B2","x":1.35,"y":1.181},{"s":"B2","x":1.36,"y":1.182},{"s":"B2","x":1.37,"y":1.186},{"s":"B2","x":1.38,"y":1.193},{"s":"B2","x":1.39,"y":1.195},
{"s":"B2","x":1.40,"y":1.199},{"s":"B2","x":1.41,"y":1.203},{"s":"B2","x":1.42,"y":1.207},{"s":"B2","x":1.43,"y":1.210},{"s":"B2","x":1.44,"y":1.214},{"s":"B2","x":1.45,"y":1.216},{"s":"B2","x":1.46,"y":1.219},{"s":"B2","x":1.47,"y":1.223},{"s":"B2","x":1.48,"y":1.227},{"s":"B2","x":1.49,"y":1.230},{"s":"B2","x":1.50,"y":1.232},

{"s":"C","x":1.14,"y":1.012},{"s":"C","x":1.15,"y":1.020},{"s":"C","x":1.16,"y":1.028},{"s":"C","x":1.17,"y":1.036},{"s":"C","x":1.18,"y":1.045},{"s":"C","x":1.19,"y":1.055},
{"s":"C","x":1.20,"y":1.062},{"s":"C","x":1.21,"y":1.068},{"s":"C","x":1.22,"y":1.077},{"s":"C","x":1.23,"y":1.082},{"s":"C","x":1.24,"y":1.090},{"s":"C","x":1.25,"y":1.095},{"s":"C","x":1.26,"y":1.103},{"s":"C","x":1.27,"y":1.108},{"s":"C","x":1.28,"y":1.114},{"s":"C","x":1.29,"y":1.120},
{"s":"C","x":1.30,"y":1.127},{"s":"C","x":1.31,"y":1.135},{"s":"C","x":1.32,"y":1.138},{"s":"C","x":1.33,"y":1.143},{"s":"C","x":1.34,"y":1.149},{"s":"C","x":1.35,"y":1.153},{"s":"C","x":1.36,"y":1.160},{"s":"C","x":1.37,"y":1.163},{"s":"C","x":1.38,"y":1.166},{"s":"C","x":1.39,"y":1.171},
{"s":"C","x":1.40,"y":1.177},{"s":"C","x":1.41,"y":1.181},{"s":"C","x":1.42,"y":1.185},{"s":"C","x":1.43,"y":1.190},{"s":"C","x":1.44,"y":1.193},{"s":"C","x":1.45,"y":1.197},{"s":"C","x":1.46,"y":1.203},{"s":"C","x":1.47,"y":1.207},{"s":"C","x":1.48,"y":1.208},{"s":"C","x":1.49,"y":1.212},{"s":"C","x":1.50,"y":1.214},

{"s":"G","x":1.27,"y":1.007},{"s":"G","x":1.28,"y":1.007},{"s":"G","x":1.29,"y":1.012},{"s":"G","x":1.30,"y":1.016},{"s":"G","x":1.31,"y":1.024},{"s":"G","x":1.32,"y":1.030},{"s":"G","x":1.33,"y":1.036},{"s":"G","x":1.34,"y":1.041},{"s":"G","x":1.35,"y":1.052},{"s":"G","x":1.36,"y":1.056},
{"s":"G","x":1.37,"y":1.063},{"s":"G","x":1.38,"y":1.068},{"s":"G","x":1.39,"y":1.077},{"s":"G","x":1.40,"y":1.082},{"s":"G","x":1.41,"y":1.086},{"s":"G","x":1.42,"y":1.093},{"s":"G","x":1.43,"y":1.101},{"s":"G","x":1.44,"y":1.103},{"s":"G","x":1.45,"y":1.110},{"s":"G","x":1.46,"y":1.116},
{"s":"G","x":1.47,"y":1.120},{"s":"G","x":1.48,"y":1.125},{"s":"G","x":1.49,"y":1.130},{"s":"G","x":1.50,"y":1.134},

{"s":"Y","x":1.36,"y":1.007},{"s":"Y","x":1.37,"y":1.014},{"s":"Y","x":1.38,"y":1.020},{"s":"Y","x":1.39,"y":1.028},{"s":"Y","x":1.40,"y":1.036},{"s":"Y","x":1.41,"y":1.042},{"s":"Y","x":1.42,"y":1.051},{"s":"Y","x":1.43,"y":1.057},{"s":"Y","x":1.44,"y":1.063},{"s":"Y","x":1.45,"y":1.068},
{"s":"Y","x":1.46,"y":1.073},{"s":"Y","x":1.47,"y":1.082},{"s":"Y","x":1.48,"y":1.085},{"s":"Y","x":1.49,"y":1.090},{"s":"Y","x":1.50,"y":1.099},

{"s":"L","x":1.38,"y":1.007},{"s":"L","x":1.39,"y":1.016},{"s":"L","x":1.40,"y":1.024},{"s":"L","x":1.41,"y":1.030},{"s":"L","x":1.42,"y":1.038},{"s":"L","x":1.43,"y":1.045},{"s":"L","x":1.44,"y":1.052},{"s":"L","x":1.45,"y":1.057},{"s":"L","x":1.46,"y":1.063},{"s":"L","x":1.47,"y":1.070},
{"s":"L","x":1.48,"y":1.075},{"s":"L","x":1.49,"y":1.081},{"s":"L","x":1.50,"y":1.084}
],
"lab":[
{"t":"HE","k":"m","x":0.107,"y":1.367},{"t":"11","k":"s","x":0.199,"y":1.358},
{"t":"EH","k":"m","x":0.305,"y":1.252},{"t":"11","k":"s","x":0.403,"y":1.243},
{"t":"HE","k":"m","x":0.454,"y":1.167},{"t":"12","k":"s","x":0.546,"y":1.157},
{"t":"EH","k":"m","x":0.704,"y":1.224},{"t":"12","k":"s","x":0.799,"y":1.213},
{"t":"HE","k":"m","x":0.850,"y":1.166},{"t":"13","k":"s","x":0.942,"y":1.157}
]
},
"encoding":{
"x":{"field":"x","type":"quantitative",
"scale":{"domain":[0,1.6],"nice":false,"zero":false},
"axis":{"values":[0,0.2,0.4,0.6,0.8,1,1.2,1.4,1.6],
"labelExpr":"replace(format(datum.value,'~g'),'.',',')",
"grid":false,"domainColor":"#000","domainWidth":1,"tickColor":"#000","tickSize":5,
"labelFont":"DejaVu Sans","labelFontSize":16,"labelColor":"#000","labelPadding":13,
"title":"V=k0*r1","titleFont":"DejaVu Sans","titleFontSize":17,"titleFontWeight":"bold","titleColor":"#000","titlePadding":14}},
"y":{"field":"y","type":"quantitative",
"scale":{"domain":[1.0,1.45],"nice":false,"zero":false},
"axis":{"values":[1.0,1.05,1.1,1.15,1.2,1.25,1.3,1.35,1.4,1.45],
"labelExpr":"replace(format(datum.value,'.2f'),'.',',')",
"grid":true,"gridColor":"#1a1a1a","gridWidth":1,"domainColor":"#000","domainWidth":1,"tickColor":"#000","tickSize":6,
"labelFont":"DejaVu Sans","labelFontSize":15,"labelColor":"#000","labelPadding":12,
"title":"betta/k0","titleFont":"Liberation Sans","titleFontSize":15,"titleFontWeight":"bold","titleColor":"#000","titlePadding":23}}
},
"layer":[
{"data":{"name":"pts"},
"mark":{"type":"point","filled":true,"shape":"circle","size":22,"opacity":1},
"encoding":{"color":{"field":"s","type":"nominal","legend":null,
"scale":{"domain":["HE11","EH11","HE12","EH12","HE13","O1","O2","B1","B2","C","G","Y","L"],
"range":["#000080","#ff00ff","#ff00ff","#800000","#800000","#ff6600","#ff6600","#0000ff","#0000ff","#ccffff","#ccffcc","#ffff99","#99ccff"]}}}},
{"data":{"name":"lab"},"transform":[{"filter":"datum.k=='m'"}],
"mark":{"type":"text","font":"Liberation Serif","fontStyle":"italic","fontSize":23,"align":"left","baseline":"alphabetic","color":"#000"},
"encoding":{"text":{"field":"t"}}},
{"data":{"name":"lab"},"transform":[{"filter":"datum.k=='s'"}],
"mark":{"type":"text","font":"Liberation Serif","fontSize":13,"align":"left","baseline":"alphabetic","color":"#000"},
"encoding":{"text":{"field":"t"}}}
]
}
